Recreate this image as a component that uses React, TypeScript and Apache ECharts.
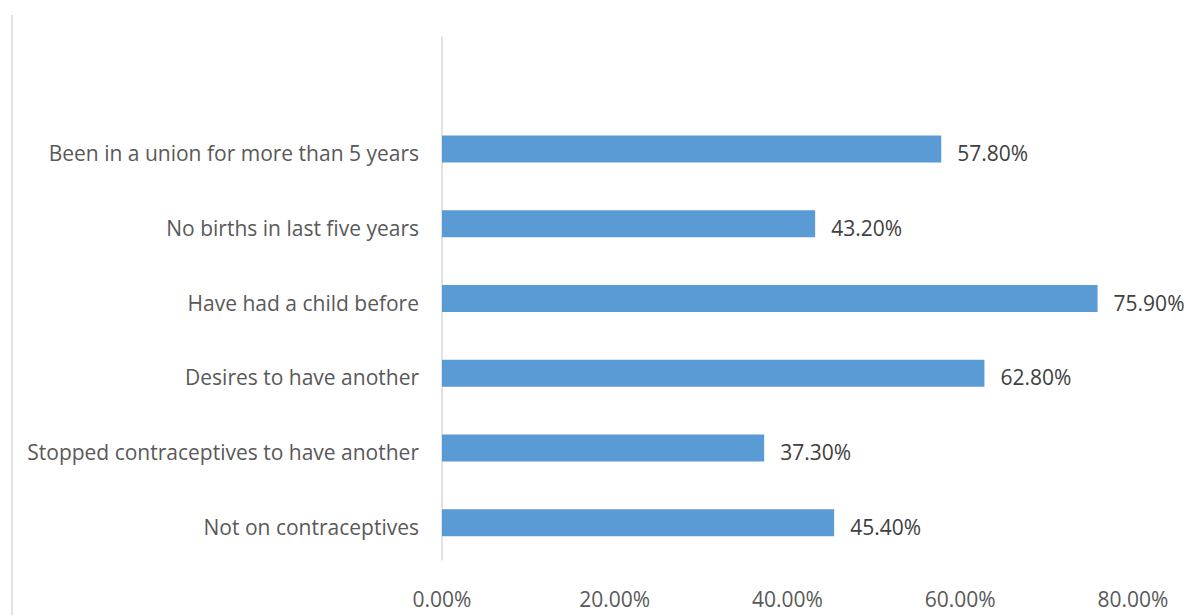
import React, { useEffect, useRef } from "react";
import * as echarts from "echarts";

const categories = [
  "",
  "Been in a union for more than 5 years",
  "No births in last five years",
  "Have had a child before",
  "Desires to have another",
  "Stopped contraceptives to have another",
  "Not on contraceptives",
];
const values: (number | null)[] = [null, 57.8, 43.2, 75.9, 62.8, 37.3, 45.4];
const xTicks = { min: 0, max: 80, interval: 20 };

const FONT = "'Open Sans', sans-serif";

export default function App() {
  const ref = useRef<HTMLDivElement>(null);
  useEffect(() => {
    if (!ref.current) return;
    const chart = echarts.init(ref.current, null, { renderer: "svg" });
    chart.setOption({
      animation: false,
      backgroundColor: "#ffffff",
      grid: { left: 442, right: 56, top: 37, bottom: 55, containLabel: false },
      xAxis: {
        type: "value",
        min: xTicks.min,
        max: xTicks.max,
        interval: xTicks.interval,
        axisLine: { show: false },
        axisTick: { show: false },
        splitLine: { show: false },
        axisLabel: {
          margin: 28,
          color: "#595959",
          fontSize: 21,
          fontFamily: FONT,
          formatter: (v: number) => `${v.toFixed(2)}%`,
        },
      },
      yAxis: {
        type: "category",
        inverse: true,
        data: categories,
        axisTick: { show: false },
        axisLine: { show: true, lineStyle: { color: "#d9d9d9", width: 1.5 } },
        axisLabel: {
          margin: 23,
          color: "#595959",
          fontSize: 21,
          fontFamily: FONT,
          formatter: (v: string) => `{a|${v}}`,
          rich: {
            a: {
              color: "#595959",
              fontSize: 21,
              fontFamily: FONT,
              padding: [8, 0, 0, 0],
            },
          },
        },
      },
      series: [
        {
          type: "bar",
          data: values,
          barWidth: 27,
          itemStyle: { color: "#5b9bd5" },
          label: {
            show: true,
            position: "right",
            distance: 16,
            offset: [0, 4],
            color: "#404040",
            fontSize: 21,
            fontFamily: FONT,
            formatter: (p: any) => `${Number(p.value).toFixed(2)}%`,
          },
        },
      ],
      graphic: [
        {
          type: "line",
          shape: { x1: 12, y1: 15, x2: 12, y2: 615 },
          style: { stroke: "#d9d9d9", lineWidth: 1.5 },
        },
      ],
    });
    return () => chart.dispose();
  }, []);
  return (
    <div
      ref={ref}
      style={{ position: "fixed", left: 0, top: 0, width: 1189, height: 615 }}
    />
  );
}
